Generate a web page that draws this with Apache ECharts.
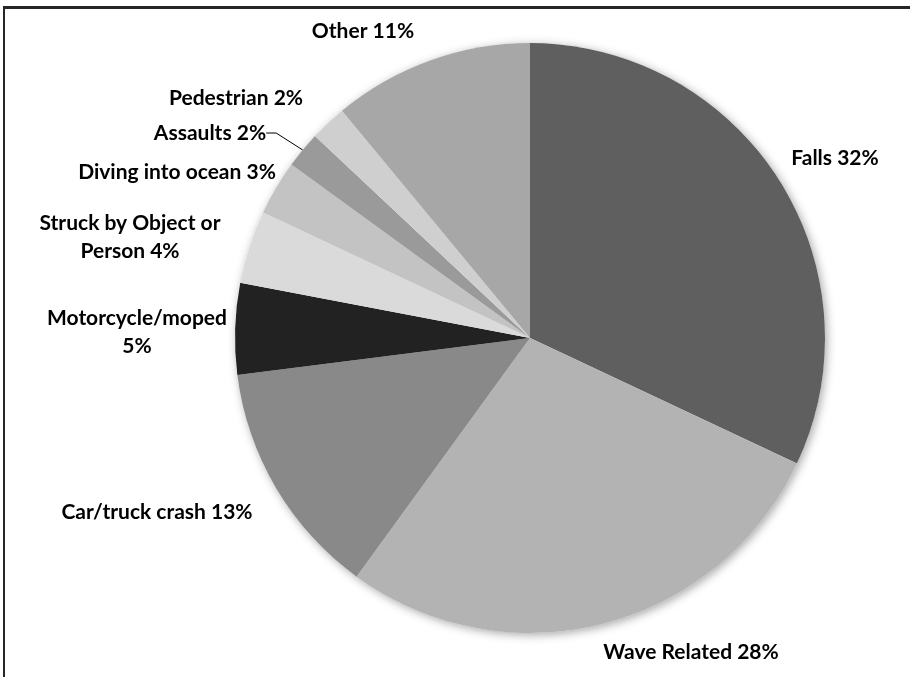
<!DOCTYPE html>
<html>
<head>
<meta charset="utf-8">
<script src="https://cdn.jsdelivr.net/npm/echarts@6/dist/echarts.min.js"></script>
<style>
  html, body { margin: 0; padding: 0; background: #ffffff; }
  #wrap { position: relative; width: 910px; height: 677px; overflow: hidden; background: #fff; }
  #frame { position: absolute; left: 3px; top: 6px; width: 920px; height: 700px;
           border-top: 3px solid #262626; border-left: 2px solid #262626; box-sizing: border-box; }
  #chart { position: absolute; left: 0; top: 0; width: 910px; height: 677px; }
</style>
</head>
<body>
<div id="wrap">
  <div id="frame"></div>
  <div id="chart"></div>
</div>
<script>
// Data
const categories = ["Falls", "Wave Related", "Car/truck crash", "Motorcycle/moped", "Struck by Object or Person", "Diving into ocean", "Assaults", "Pedestrian", "Other"];
const values = [32, 28, 13, 5, 4, 3, 2, 2, 11];
const labelTexts = ["Falls 32%", "Wave Related 28%", "Car/truck crash 13%", "Motorcycle/moped\n5%", "Struck by Object or\nPerson 4%", "Diving into ocean 3%", "Assaults 2%", "Pedestrian 2%", "Other 11%"];

// Styles / layout
const sliceColors = ["#5f5f5f", "#b3b3b3", "#898989", "#222222", "#dadada", "#c3c3c3", "#9a9a9a", "#cfcfcf", "#a7a7a7"];
const labelPos = [[835, 158], [691, 652], [157, 512], [137, 332], [130, 237], [177, 172], [210, 133], [236, 98], [363, 31]];

const chart = echarts.init(document.getElementById('chart'), null, { renderer: 'canvas' });

const pieData = categories.map((c, i) => ({
  name: c,
  value: values[i],
  itemStyle: { color: sliceColors[i] },
  label: { formatter: labelTexts[i] },
  labelLine: { show: c === "Assaults" }
}));

chart.setOption({
  backgroundColor: 'transparent',
  animation: false,
  series: [
    {
      type: 'pie',
      silent: true,
      center: [530, 338],
      radius: [0, 295],
      z: 1,
      label: { show: false },
      labelLine: { show: false },
      itemStyle: { color: '#ffffff', shadowBlur: 10, shadowColor: 'rgba(0,0,0,0.35)', shadowOffsetX: 2, shadowOffsetY: 2 },
      data: [{ value: 1, name: 'bg' }]
    },
    {
      type: 'pie',
      center: [530, 338],
      radius: [0, 295],
      startAngle: 90,
      clockwise: true,
      z: 2,
      itemStyle: { borderWidth: 0 },
      label: {
        show: true,
        position: 'outside',
        color: '#000000',
        fontFamily: 'Lato',
        fontWeight: 'bold',
        fontSize: 21,
        lineHeight: 28,
        align: 'center'
      },
      labelLine: {
        show: false,
        length: 10,
        length2: 10,
        lineStyle: { color: '#000000', width: 1 }
      },
      labelLayout: function (params) {
        const p = labelPos[params.dataIndex];
        return { x: p[0], y: p[1], align: 'center', verticalAlign: 'middle' };
      },
      emphasis: { disabled: true },
      data: pieData
    }
  ]
});
</script>
</body>
</html>
